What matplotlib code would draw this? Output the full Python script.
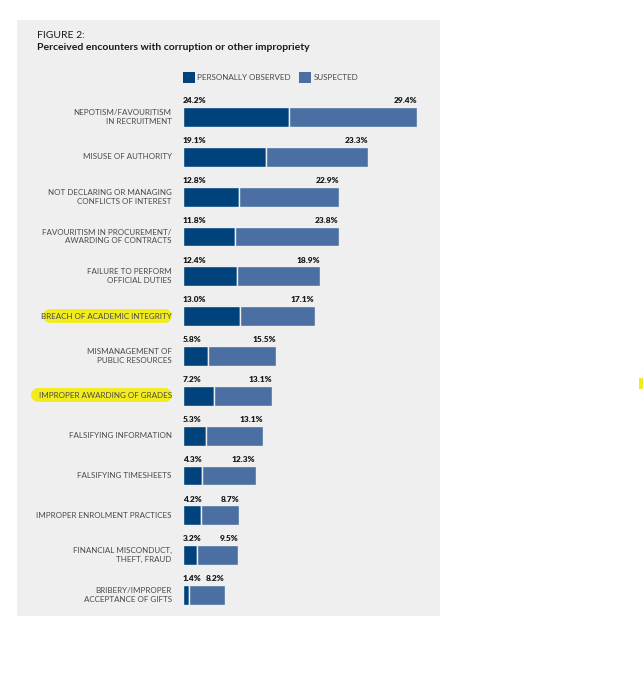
import matplotlib
matplotlib.use("Agg")
import matplotlib.pyplot as plt
from matplotlib.patches import Rectangle
from matplotlib.lines import Line2D

plt.rcParams['font.family'] = ['Lato', 'DejaVu Sans']

categories = [
    "NEPOTISM/FAVOURITISM\nIN RECRUITMENT",
    "MISUSE OF AUTHORITY",
    "NOT DECLARING OR MANAGING\nCONFLICTS OF INTEREST",
    "FAVOURITISM IN PROCUREMENT/\nAWARDING OF CONTRACTS",
    "FAILURE TO PERFORM\nOFFICIAL DUTIES",
    "BREACH OF ACADEMIC INTEGRITY",
    "MISMANAGEMENT OF\nPUBLIC RESOURCES",
    "IMPROPER AWARDING OF GRADES",
    "FALSIFYING INFORMATION",
    "FALSIFYING TIMESHEETS",
    "IMPROPER ENROLMENT PRACTICES",
    "FINANCIAL MISCONDUCT,\nTHEFT, FRAUD",
    "BRIBERY/IMPROPER\nACCEPTANCE OF GIFTS",
]
observed = [24.2, 19.1, 12.8, 11.8, 12.4, 13.0, 5.8, 7.2, 5.3, 4.3, 4.2, 3.2, 1.4]
suspected = [29.4, 23.3, 22.9, 23.8, 18.9, 17.1, 15.5, 13.1, 13.1, 12.3, 8.7, 9.5, 8.2]

dark = '#00437c'
light = '#4b6fa2'
panel = '#efeff0'
yellow = '#f2ec1c'

W, H = 643, 680
fig = plt.figure(figsize=(W / 100, H / 100), dpi=100)
fig.patch.set_facecolor('white')

# grey panel behind the figure
fig.add_artist(Rectangle((17 / W, 1 - 616 / H), 423 / W, 596 / H,
                         transform=fig.transFigure, fc=panel, ec='none', zorder=-3))

# highlighter strokes (drawn under the axes)
def stroke(x0, x1, y, lw):
    fig.add_artist(Line2D([x0 / W, x1 / W], [1 - y / H, 1 - y / H], transform=fig.transFigure,
                          color=yellow, lw=lw, solid_capstyle='round', zorder=-2))

stroke(50, 165, 316, 10)
stroke(38, 165, 395, 10)
fig.add_artist(Rectangle((639 / W, 1 - 389 / H), 4 / W, 11 / H,
                         transform=fig.transFigure, fc=yellow, ec='none'))

ax = fig.add_axes([183 / W, 1 - 615 / H, 257 / W, 518 / H])
ax.set_facecolor('none')
ax.set_xlim(0, 257 / 4.37)
ax.set_ylim(12.5, -0.5)
ax.axis('off')

y = list(range(len(categories)))
ax.barh(y, observed, height=0.5, color=dark, edgecolor=panel, linewidth=1.0)
ax.barh(y, suspected, left=observed, height=0.5, color=light, edgecolor=panel, linewidth=1.0)

for i, cat in enumerate(categories):
    ax.text(-2.6, i, cat, ha='right', va='center', fontsize=5.8, color='#4a4a4a',
            linespacing=1.3, clip_on=False, zorder=3)
    ax.text(0, i - 0.32, f"{observed[i]}%", ha='left', va='bottom', fontsize=6.0,
            fontweight='heavy', color='#1a1a1a', clip_on=False)
    ax.text(observed[i] + suspected[i], i - 0.32, f"{suspected[i]}%", ha='right', va='bottom',
            fontsize=6.0, fontweight='heavy', color='#1a1a1a', clip_on=False)

# legend
fig.add_artist(Rectangle((183 / W, 1 - 83 / H), 12 / W, 11 / H, transform=fig.transFigure,
                         fc=dark, ec='none'))
fig.text(197 / W, 1 - 78 / H, "PERSONALLY OBSERVED", fontsize=5.8, color='#4a4a4a', va='center')
fig.add_artist(Rectangle((299 / W, 1 - 83 / H), 12 / W, 11 / H, transform=fig.transFigure,
                         fc=light, ec='none'))
fig.text(314 / W, 1 - 78 / H, "SUSPECTED", fontsize=5.8, color='#4a4a4a', va='center')

fig.text(37 / W, 1 - 35.5 / H, "FIGURE 2:", fontsize=7.5, color='#1a1a1a', va='center')
fig.text(37 / W, 1 - 48 / H, "Perceived encounters with corruption or other impropriety",
         fontsize=7.5, fontweight='bold', color='#1a1a1a', va='center')

fig.savefig('out.png', dpi=100, facecolor='white')
